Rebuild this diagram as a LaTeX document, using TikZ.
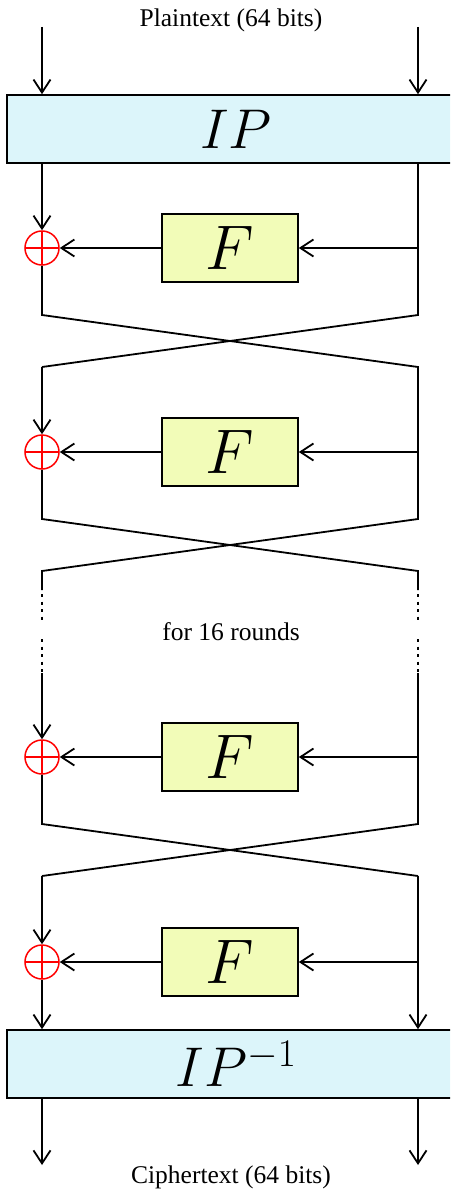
\RequirePackage{fix-cm}
\documentclass[tikz,border=0pt]{standalone}
\usepackage{fontspec}
\setmainfont{Liberation Serif}
\usetikzlibrary{arrows.meta}
\definecolor{ipcyan}{HTML}{DCF5FA}
\definecolor{fyellow}{HTML}{F2FCB8}
\tikzset{
 wire/.style={line width=1.8pt},
 dotwire/.style={line width=1.8pt,dash pattern=on 3pt off 4.5pt},
 permbox/.style={draw,line width=1.6pt,fill=ipcyan,minimum width=458pt,minimum height=68pt,inner sep=0pt,font=\fontsize{56}{60}\selectfont},
 roundf/.style={draw,line width=1.6pt,fill=fyellow,minimum width=136pt,minimum height=68pt,inner sep=0pt,font=\fontsize{63}{66}\selectfont},
 xorbox/.style={circle,draw=red,line width=1.5pt,minimum size=34pt,inner sep=0pt,
  path picture={\draw[red,line width=1.5pt] (path picture bounding box.north) -- (path picture bounding box.south)
  (path picture bounding box.west) -- (path picture bounding box.east);}}
}
\begin{document}
\begin{tikzpicture}[x=1pt,y=-1pt,>={Straight Barb[length=13pt,width=17pt]},font=\fontsize{25.5}{30}\selectfont]
\clip (0,0) rectangle (450,1190);
\node (plain) at (231,20) {Plaintext (64 bits)};
\node (cipher) at (231,1177) {Ciphertext (64 bits)};
\node (rounds) at (231,632) {for 16 rounds};
\node[permbox] (ip) at (236,129) {$IP$};
\node[permbox] (ipinv) at (236,1064) {$IP^{-1}$};
\coordinate (inL) at (42,27); \coordinate (inR) at (418,27);
\coordinate (outL) at (42,1165); \coordinate (outR) at (418,1165);
\draw[wire,->] (inL) -- (inL|-ip.north);
\draw[wire,->] (inR) -- (inR|-ip.north);
\draw[wire,->] (ipinv.south-|outL) -- (outL);
\draw[wire,->] (ipinv.south-|outR) -- (outR);
\foreach \i/\y in {1/248,2/452,3/757,4/962}{
 \node[roundf] (F\i) at (230,\y) {$F$};
 \node[xorbox] (X\i) at (42,\y) {};
 \coordinate (R\i) at (418,\y);
 \coordinate (Ta\i) at (42,\y+67); \coordinate (Tb\i) at (418,\y+67);
 \coordinate (Ba\i) at (42,\y+119); \coordinate (Bb\i) at (418,\y+119);
 \draw[wire,->] (R\i) -- (F\i);
 \draw[wire,->] (F\i) -- (X\i);
}
\draw[wire,->] (ip.south-|X1) -- (X1);
\draw[wire] (ip.south-|R1) -- (Tb1) -- (Ba1);
\draw[wire] (X1) -- (Ta1) -- (Bb1) -- (Tb2) -- (Ba2) -- (42,590);
\draw[wire,->] (Ba1) -- (X2);
\draw[wire] (X2) -- (Ta2) -- (Bb2) -- (418,590);
\foreach \x in {42,418}{
 \draw[dotwire] (\x,594) -- (\x,621);
 \draw[dotwire] (\x,639) -- (\x,672);
}
\draw[wire,->] (42,673) -- (X3);
\draw[wire] (418,673) -- (Tb3) -- (Ba3);
\draw[wire] (X3) -- (Ta3) -- (Bb3);
\draw[wire,->] (Bb3) -- (ipinv.north-|Bb3);
\draw[wire,->] (Ba3) -- (X4);
\draw[wire,->] (X4) -- (ipinv.north-|X4);
\end{tikzpicture}
\end{document}
